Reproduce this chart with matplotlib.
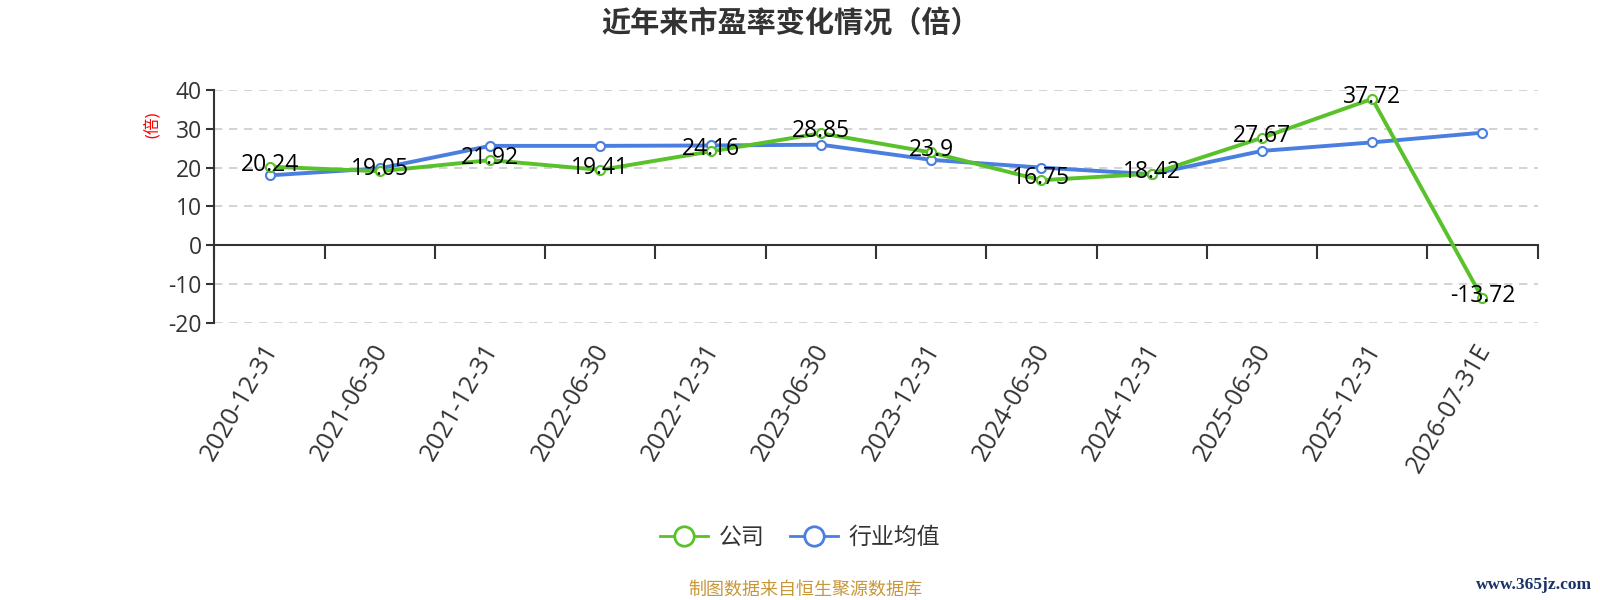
import matplotlib
matplotlib.use("Agg")
import matplotlib.pyplot as plt
from matplotlib.lines import Line2D
from matplotlib.transforms import ScaledTranslation

plt.rcParams['font.family'] = ['Open Sans', 'Noto Sans CJK SC', 'DejaVu Sans']

categories = ["2020-12-31", "2021-06-30", "2021-12-31", "2022-06-30", "2022-12-31",
              "2023-06-30", "2023-12-31", "2024-06-30", "2024-12-31", "2025-06-30",
              "2025-12-31", "2026-07-31E"]
company = [20.24, 19.05, 21.92, 19.41, 24.16, 28.85, 23.9, 16.75, 18.42, 27.67, 37.72, -13.72]
company_labels = ["20.24", "19.05", "21.92", "19.41", "24.16", "28.85", "23.9", "16.75",
                  "18.42", "27.67", "37.72", "-13.72"]
industry = [18.0, 19.8, 25.6, 25.6, 25.7, 25.9, 22.0, 20.0, 18.3, 24.3, 26.5, 29.0]
y_ticks = [-20, -10, 0, 10, 20, 30, 40]
series_names = ['公司', '行业均值']

GREEN = '#59C12A'
BLUE = '#4A7FE0'
AXIS = '#333333'

fig = plt.figure(figsize=(16, 6), dpi=100)
ax = fig.add_axes([0.134, 0.462, 0.827, 0.388])

x = list(range(len(categories)))
ax.set_xlim(-0.5, len(categories) - 0.5)
ax.set_ylim(-20, 40)

# grid lines
for t in y_ticks:
    if t != 0:
        ax.axhline(t, color='#cccccc', lw=1.2, ls=(0, (5, 4)), zorder=1)

ax.plot(x, company, color=GREEN, lw=2.8, marker='o', ms=6.5, mfc='white', mec=GREEN,
        mew=1.5, zorder=4)
ax.plot(x, industry, color=BLUE, lw=2.8, marker='o', ms=6.5, mfc='white', mec=BLUE,
        mew=1.5, zorder=3)

for xi, v, s in zip(x, company, company_labels):
    ax.annotate(s, (xi, v), xytext=(0, 1.5), textcoords='offset points',
                ha='center', va='center', fontsize=16.5, color='black', zorder=6)

# spines
for sp in ['top', 'right']:
    ax.spines[sp].set_visible(False)
ax.spines['left'].set_color(AXIS)
ax.spines['left'].set_linewidth(1.5)
ax.spines['bottom'].set_position(('data', 0))
ax.spines['bottom'].set_color(AXIS)
ax.spines['bottom'].set_linewidth(1.5)

ax.set_yticks(y_ticks)
ax.set_yticklabels([str(t) for t in y_ticks])
ax.tick_params(axis='y', length=6, width=1.5, color=AXIS, labelsize=16.5,
               labelcolor=AXIS, pad=3)

bounds = [i - 0.5 for i in range(len(categories) + 1)]
ax.set_xticks(bounds)
ax.set_xticklabels([])
ax.tick_params(axis='x', direction='out', length=10, width=1.5, color=AXIS)

sec = ax.secondary_xaxis(0)
sec.set_xticks(x)
sec.set_xticklabels(categories, rotation=60, ha='right', rotation_mode='anchor',
                    fontsize=18, color=AXIS)
sec.tick_params(length=0, pad=12)
sec.spines['bottom'].set_visible(False)
shift = ScaledTranslation(-8 / 100, 0, fig.dpi_scale_trans)
for lbl in sec.get_xticklabels():
    lbl.set_transform(lbl.get_transform() + shift)

ax.text(-0.047, 0.85, '(倍)', transform=ax.transAxes, rotation=90, color='red',
        fontsize=12, ha='center', va='center')

fig.text(0.494, 0.96, '近年来市盈率变化情况（倍）', ha='center', va='center',
         fontsize=21, fontweight='bold', color=AXIS)

handles = [Line2D([], [], color=c, lw=2, marker='o', ms=14, mfc='white', mec=c, mew=2)
           for c in (GREEN, BLUE)]
fig.legend(handles, series_names, loc='center', bbox_to_anchor=(0.5, 0.103), ncol=2,
           frameon=False, fontsize=16.5, handlelength=2.1, columnspacing=1.1,
           handletextpad=0.45, labelcolor=AXIS)

fig.text(0.5035, 0.017, '制图数据来自恒生聚源数据库', ha='center', va='center',
         fontsize=13, color='#C8973A')
fig.text(0.995, 0.025, 'www.365jz.com', ha='right', va='center', fontsize=12.5,
         color='#1A3366', family=['Liberation Serif', 'DejaVu Serif'], fontweight='bold')

fig.savefig('out.png', dpi=100, facecolor='white')
